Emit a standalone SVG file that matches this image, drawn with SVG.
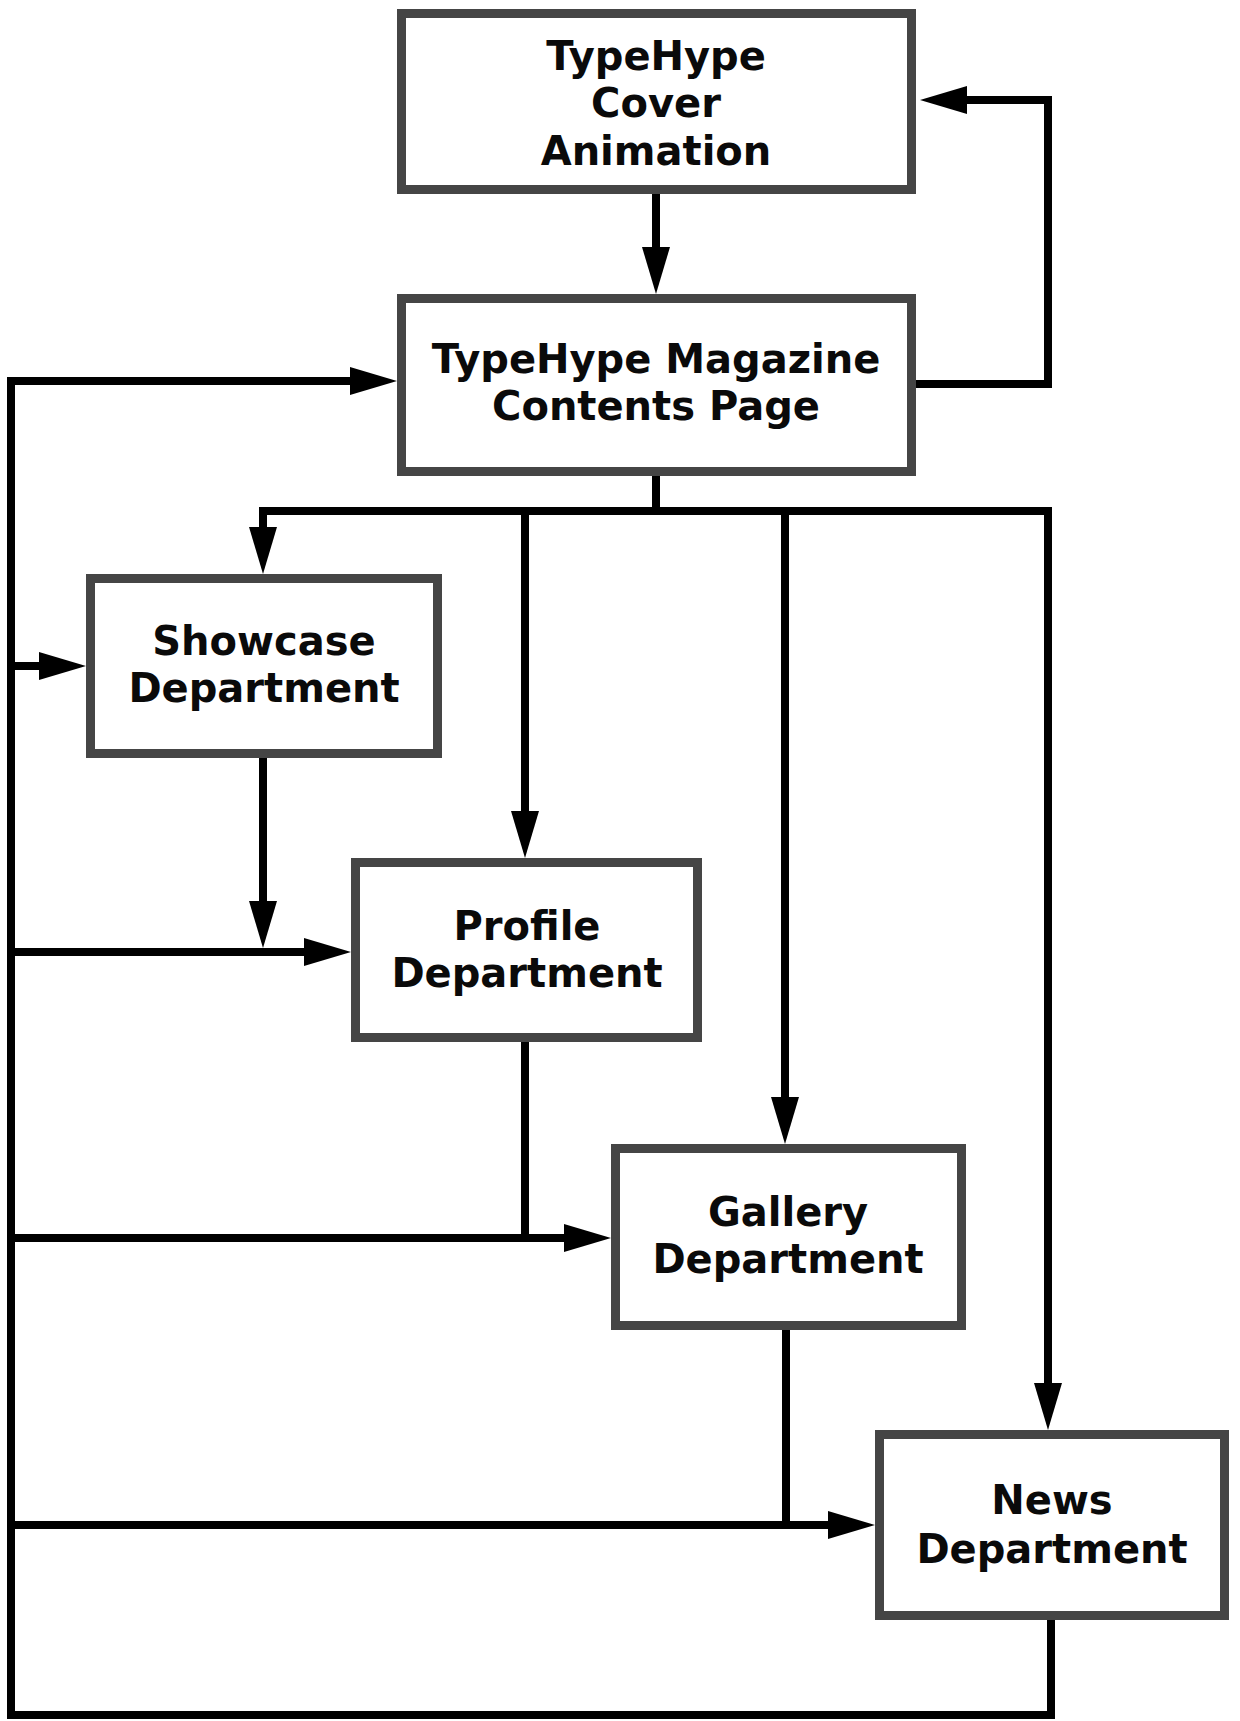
<svg xmlns="http://www.w3.org/2000/svg" width="1240" height="1721" viewBox="0 0 1240 1721">
<defs>
<style>
.box{fill:#fff;stroke:#454545;stroke-width:9}
.lbl{font-family:"DejaVu Sans","Liberation Sans",sans-serif;font-weight:700;font-size:40px;fill:#0a0a0a;text-anchor:middle}
.ln{fill:none;stroke:#000;stroke-width:8;stroke-linejoin:miter;stroke-linecap:butt}
.arr{marker-end:url(#ah)}
</style>
<marker id="ah" markerUnits="userSpaceOnUse" markerWidth="48" markerHeight="30" refX="0" refY="14" orient="auto" overflow="visible">
<path d="M-1,0 L46,14 L-1,28 Z" fill="#000"/>
</marker>
</defs>
<rect width="1240" height="1721" fill="#fff"/>
<g id="connectors">
<path class="ln arr" d="M656,194 V248"/>
<path class="ln arr" d="M916,384 H1048 V100 H966"/>
<path class="ln" d="M656,476 V511"/>
<path class="ln arr" d="M1052,511 H263 V528"/>
<path class="ln arr" d="M525,511 V812"/>
<path class="ln arr" d="M785,511 V1098"/>
<path class="ln arr" d="M1048,511 V1384"/>
<path class="ln arr" d="M1051,1620 V1715 H11 V381 H351"/>
<path class="ln arr" d="M11,666 H40"/>
<path class="ln arr" d="M11,952 H305"/>
<path class="ln arr" d="M11,1238 H565"/>
<path class="ln arr" d="M11,1525 H829"/>
<path class="ln arr" d="M263,758 V902"/>
<path class="ln" d="M525,1042 V1238"/>
<path class="ln" d="M786,1330 V1525"/>
</g>
<g id="cover">
<rect class="box" x="401.5" y="13.5" width="510" height="176"/>
<text class="lbl" x="656" y="70">TypeHype</text>
<text class="lbl" x="656" y="117">Cover</text>
<text class="lbl" x="656" y="165">Animation</text>
</g>
<g id="contents">
<rect class="box" x="401.5" y="298.5" width="510" height="173"/>
<text class="lbl" x="656" y="373">TypeHype Magazine</text>
<text class="lbl" x="656" y="420">Contents Page</text>
</g>
<g id="showcase">
<rect class="box" x="90.5" y="578.5" width="347" height="175"/>
<text class="lbl" x="264" y="655">Showcase</text>
<text class="lbl" x="264" y="702">Department</text>
</g>
<g id="profile">
<rect class="box" x="355.5" y="862.5" width="342" height="175"/>
<text class="lbl" x="527" y="940">Profile</text>
<text class="lbl" x="527" y="987">Department</text>
</g>
<g id="gallery">
<rect class="box" x="615.5" y="1148.5" width="346" height="177"/>
<text class="lbl" x="788" y="1226">Gallery</text>
<text class="lbl" x="788" y="1273">Department</text>
</g>
<g id="news">
<rect class="box" x="879.5" y="1434.5" width="345" height="181"/>
<text class="lbl" x="1052" y="1514">News</text>
<text class="lbl" x="1052" y="1563">Department</text>
</g>
</svg>
